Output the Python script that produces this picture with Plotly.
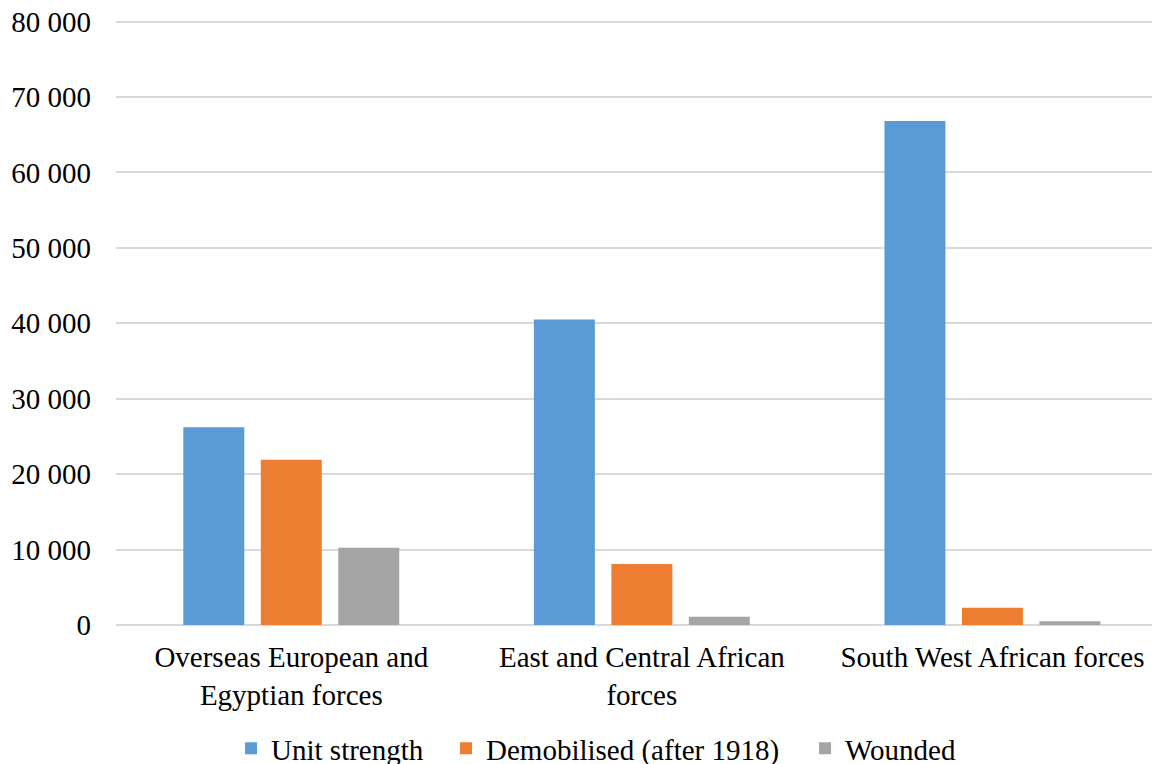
import plotly.graph_objects as go

categories = ["Overseas European and<br>Egyptian forces",
              "East and Central African<br>forces",
              "South West African forces"]
series_names = ["Unit strength", "Demobilised (after 1918)", "Wounded"]
unit_strength = [26200, 40500, 66800]
demobilised = [21900, 8100, 2300]
wounded = [10250, 1100, 500]
colors = ["#5B9BD5", "#ED7D31", "#A5A5A5"]
y_ticks = [0, 10000, 20000, 30000, 40000, 50000, 60000, 70000, 80000]
y_tick_labels = ["0", "10 000", "20 000", "30 000", "40 000", "50 000", "60 000", "70 000", "80 000"]

FONT = "'Liberation Serif', 'Times New Roman', serif"
legend_ids = ["legend", "legend2", "legend3"]
legend_x = [0.1102, 0.3161, 0.660]

fig = go.Figure()
for name, vals, col, lid in zip(series_names, [unit_strength, demobilised, wounded], colors, legend_ids):
    fig.add_trace(go.Bar(x=categories, y=vals, name=name, legend=lid,
                         marker=dict(color=col, line=dict(width=0))))

legend_common = dict(orientation="h", xanchor="left", y=-0.204, yanchor="middle",
                     font=dict(family=FONT, size=29), itemwidth=30,
                     bgcolor="rgba(0,0,0,0)")

# page body has an 8px offset; figure coords = window coords - 8
fig.update_layout(
    width=1152, height=800,
    margin=dict(l=108, r=0, t=12, b=183),
    paper_bgcolor="white", plot_bgcolor="white",
    barmode="group", bargap=0.337, bargroupgap=0.213,
    font=dict(family=FONT, size=29, color="#000000"),
    showlegend=True,
    legend=dict(x=legend_x[0], **legend_common),
    legend2=dict(x=legend_x[1], **legend_common),
    legend3=dict(x=legend_x[2], **legend_common),
    xaxis=dict(type="category", range=[-0.5, 2.478], showgrid=False, showline=False,
               ticks="", tickfont=dict(family=FONT, size=29), automargin=False,
               ticklabelstandoff=12),
    yaxis=dict(range=[0, 80200], tickvals=y_ticks, ticktext=y_tick_labels,
               showgrid=True, gridcolor="#D9D9D9", gridwidth=1.5, zeroline=True,
               zerolinecolor="#D9D9D9", zerolinewidth=1.5, showline=False,
               ticks="", ticklabelstandoff=24, tickfont=dict(family=FONT, size=29),
               automargin=False, ticklabeloverflow="allow"),
)

fig.write_html("out.html")
